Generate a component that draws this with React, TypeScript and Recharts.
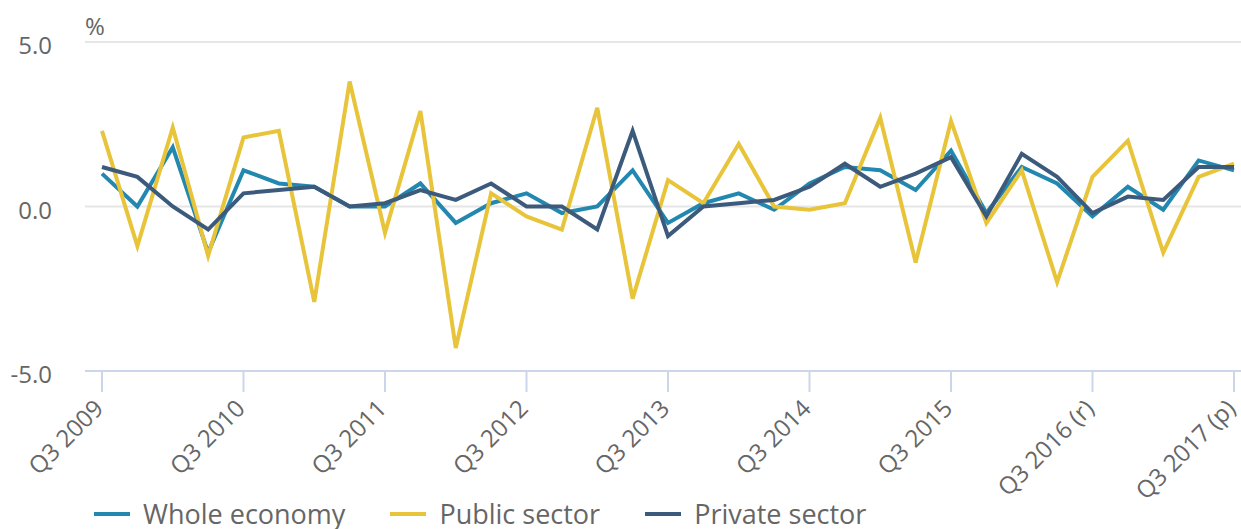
import React from 'react';
import { LineChart, Line, XAxis, YAxis, CartesianGrid, Legend } from 'recharts';

const categories = [
  'Q3 2009', 'Q4 2009', 'Q1 2010', 'Q2 2010',
  'Q3 2010', 'Q4 2010', 'Q1 2011', 'Q2 2011',
  'Q3 2011', 'Q4 2011', 'Q1 2012', 'Q2 2012',
  'Q3 2012', 'Q4 2012', 'Q1 2013', 'Q2 2013',
  'Q3 2013', 'Q4 2013', 'Q1 2014', 'Q2 2014',
  'Q3 2014', 'Q4 2014', 'Q1 2015', 'Q2 2015',
  'Q3 2015', 'Q4 2015', 'Q1 2016', 'Q2 2016',
  'Q3 2016 (r)', 'Q4 2016 (r)', 'Q1 2017 (r)', 'Q2 2017 (r)',
  'Q3 2017 (p)',
];

const wholeEconomy = [
  1.0, 0.0, 1.8, -1.4, 1.1, 0.7, 0.6, 0.0,
  0.0, 0.7, -0.5, 0.1, 0.4, -0.2, 0.0, 1.1,
  -0.5, 0.1, 0.4, -0.1, 0.7, 1.2, 1.1, 0.5,
  1.7, -0.2, 1.2, 0.7, -0.3, 0.6, -0.1, 1.4,
  1.1,
];

const publicSector = [
  2.3, -1.2, 2.4, -1.5, 2.1, 2.3, -2.9, 3.8,
  -0.8, 2.9, -4.3, 0.4, -0.3, -0.7, 3.0, -2.8,
  0.8, 0.1, 1.9, 0.0, -0.1, 0.1, 2.7, -1.7,
  2.6, -0.5, 1.1, -2.3, 0.9, 2.0, -1.4, 0.9,
  1.3,
];

const privateSector = [
  1.2, 0.9, 0.0, -0.7, 0.4, 0.5, 0.6, 0.0,
  0.1, 0.5, 0.2, 0.7, 0.0, 0.0, -0.7, 2.3,
  -0.9, 0.0, 0.1, 0.2, 0.6, 1.3, 0.6, 1.0,
  1.5, -0.3, 1.6, 0.9, -0.2, 0.3, 0.2, 1.2,
  1.2,
];

const yTicks = [-5, 0, 5];

const seriesNames = ['Whole economy', 'Public sector', 'Private sector'];
const seriesKeys = ['whole', 'public', 'private'];
const seriesColors = ['#2388b0', '#e8c43a', '#3c5a7c'];

const data = categories.map((q, i) => ({
  q,
  whole: wholeEconomy[i],
  public: publicSector[i],
  private: privateSector[i],
}));

const FONT = "'Open Sans', 'Noto Sans', sans-serif";
const TEXT = '#666666';
const AXIS = '#ccd6eb';

const XTick = (props: any) => {
  const { x, y, payload } = props;
  const tx = x + 3;
  const ty = y + 18;
  return (
    <text
      x={tx}
      y={ty}
      transform={`rotate(-45 ${tx} ${ty})`}
      textAnchor="end"
      fill={TEXT}
      fontSize={24}
      fontFamily={FONT}
    >
      {payload.value}
    </text>
  );
};

const YTick = (props: any) => {
  const { x, y, payload } = props;
  return (
    <text x={x} y={y + 12} textAnchor="end" fill={TEXT} fontSize={24} fontFamily={FONT}>
      {Number(payload.value).toFixed(1)}
    </text>
  );
};

const PercentLabel = (props: any) => {
  const vb = props.viewBox || { x: 0, y: 42, width: 85 };
  return (
    <text x={vb.x + vb.width} y={vb.y - 7} fill={TEXT} fontSize={24} fontFamily={FONT}>
      %
    </text>
  );
};

const LegendContent = () => (
  <div
    style={{
      display: 'flex',
      alignItems: 'center',
      paddingLeft: 94,
      fontFamily: FONT,
      fontSize: 27,
      color: TEXT,
      whiteSpace: 'nowrap',
      lineHeight: '36px',
    }}
  >
    {seriesNames.map((name, i) => (
      <div key={name} style={{ display: 'flex', alignItems: 'center', marginRight: 45 }}>
        <div style={{ width: 36, height: 4, background: seriesColors[i], marginRight: 13 }} />
        <span>{name}</span>
      </div>
    ))}
  </div>
);

export default function App() {
  return (
    <div
      style={{
        position: 'absolute',
        left: 0,
        top: 0,
        width: 1241,
        height: 529,
        overflow: 'hidden',
        background: '#ffffff',
      }}
    >
      <LineChart
        width={1241}
        height={529}
        data={data}
        margin={{ top: 42, right: 0, bottom: 0, left: 0 }}
      >
        <CartesianGrid vertical={false} stroke="#e6e6e6" strokeWidth={2} />
        <XAxis
          dataKey="q"
          interval={3}
          height={158}
          tickSize={21}
          tickMargin={0}
          padding={{ left: 17, right: 7 }}
          axisLine={{ stroke: AXIS, strokeWidth: 2 }}
          tickLine={{ stroke: AXIS, strokeWidth: 2 }}
          tick={<XTick />}
        />
        <YAxis
          width={85}
          domain={[-5, 5]}
          ticks={yTicks}
          axisLine={false}
          tickLine={false}
          tickSize={0}
          tickMargin={33}
          tick={<YTick />}
          label={<PercentLabel />}
        />
        <Legend
          layout="horizontal"
          verticalAlign="middle"
          align="center"
          wrapperStyle={{ left: 0, top: 496, width: 1241 }}
          content={<LegendContent />}
        />
        {seriesKeys.map((k, i) => (
          <Line
            key={k}
            type="linear"
            dataKey={k}
            name={seriesNames[i]}
            stroke={seriesColors[i]}
            strokeWidth={4}
            dot={false}
            activeDot={false}
            isAnimationActive={false}
          />
        ))}
      </LineChart>
    </div>
  );
}
